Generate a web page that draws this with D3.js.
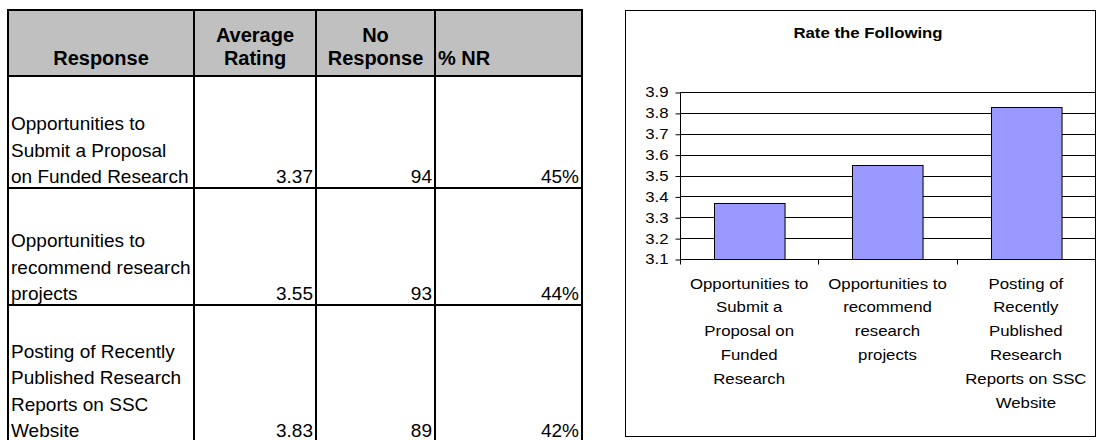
<!DOCTYPE html>
<html>
<head>
<meta charset="utf-8">
<script src="https://cdn.jsdelivr.net/npm/d3@7"></script>
<style>
  html, body { margin: 0; padding: 0; background: #fff; }
  svg { display: block; }
  text { font-family: "Liberation Sans", Arial, sans-serif; }
</style>
</head>
<body>
<svg id="c" width="1097" height="440"></svg>
<script>
// ---------------- data ----------------
const categories = [
  "Opportunities to Submit a Proposal on Funded Research",
  "Opportunities to recommend research projects",
  "Posting of Recently Published Research Reports on SSC Website"
];
const averageRating = [3.37, 3.55, 3.83];
const noResponse = [94, 93, 89];
const pctNR = ["45%", "44%", "42%"];

const tableHeaders = [["Response"], ["Average", "Rating"], ["No", "Response"], ["% NR"]];
const tableLabelLines = [
  ["Opportunities to", "Submit a Proposal", "on Funded Research"],
  ["Opportunities to", "recommend research", "projects"],
  ["Posting of Recently", "Published Research", "Reports on SSC", "Website"]
];
const axisLabelLines = [
  ["Opportunities to", "Submit a", "Proposal on", "Funded", "Research"],
  ["Opportunities to", "recommend", "research", "projects"],
  ["Posting of", "Recently", "Published", "Research", "Reports on SSC", "Website"]
];
const yTicks = [3.1, 3.2, 3.3, 3.4, 3.5, 3.6, 3.7, 3.8, 3.9];
const chartTitle = "Rate the Following";

// ---------------- table ----------------
const svg = d3.select("#c");
const colX = [8, 194, 316, 435, 582];
const rowY = [10, 76, 188, 305, 442];
const tbl = svg.append("g");

tbl.append("rect")
  .attr("x", colX[0]).attr("y", rowY[0])
  .attr("width", colX[4] - colX[0]).attr("height", rowY[1] - rowY[0])
  .attr("fill", "#c0c0c0");

// header text
const hdrAlign = ["middle", "middle", "middle", "start"];
tableHeaders.forEach((lines, ci) => {
  const x = hdrAlign[ci] === "middle" ? (colX[ci] + colX[ci + 1]) / 2 : colX[ci] + 3;
  const lastBase = rowY[1] - 11;
  lines.forEach((ln, li) => {
    tbl.append("text")
      .attr("x", x)
      .attr("y", lastBase - (lines.length - 1 - li) * 23)
      .attr("text-anchor", hdrAlign[ci])
      .attr("font-size", 20).attr("font-weight", "bold")
      .attr("fill", "#000")
      .text(ln);
  });
});

// body rows
const lh = 26.5;
categories.forEach((cat, ri) => {
  const base = rowY[ri + 2] - 5;
  const lines = tableLabelLines[ri];
  lines.forEach((ln, li) => {
    tbl.append("text")
      .attr("x", colX[0] + 3)
      .attr("y", base - (lines.length - 1 - li) * lh)
      .attr("font-size", 19).attr("fill", "#000")
      .text(ln);
  });
  const vals = [d3.format(".2f")(averageRating[ri]), String(noResponse[ri]), pctNR[ri]];
  vals.forEach((v, vi) => {
    tbl.append("text")
      .attr("x", colX[vi + 2] - 3)
      .attr("y", base)
      .attr("text-anchor", "end")
      .attr("font-size", 19).attr("fill", "#000")
      .text(v);
  });
});

// grid lines of table
colX.forEach(x => {
  tbl.append("line").attr("x1", x).attr("x2", x)
    .attr("y1", rowY[0]).attr("y2", rowY[rowY.length - 1])
    .attr("stroke", "#000").attr("stroke-width", 2);
});
rowY.forEach(y => {
  tbl.append("line").attr("x1", colX[0] - 1).attr("x2", colX[4] + 1)
    .attr("y1", y).attr("y2", y)
    .attr("stroke", "#000").attr("stroke-width", 2);
});

// ---------------- chart ----------------
const ch = svg.append("g");
ch.append("rect")
  .attr("x", 625.5).attr("y", 10.5)
  .attr("width", 470).attr("height", 426)
  .attr("fill", "#fff").attr("stroke", "#000").attr("stroke-width", 1);

const plotL = 680, plotR = 1095, plotT = 92, plotB = 259;
const x = d3.scaleBand().domain(categories).range([plotL, plotR])
  .paddingInner(0.49).paddingOuter(0.245);
const y = d3.scaleLinear().domain([3.1, 3.9]).range([plotB, plotT]);
const SX = 1.2;

// title
ch.append("text")
  .attr("transform", `translate(868,38) scale(${SX},1)`)
  .attr("text-anchor", "middle")
  .attr("font-size", 14).attr("font-weight", "bold")
  .text(chartTitle);

// gridlines
ch.append("g").selectAll("line").data(yTicks.slice(1)).join("line")
  .attr("x1", plotL).attr("x2", plotR)
  .attr("y1", d => Math.round(y(d)) + 0.5).attr("y2", d => Math.round(y(d)) + 0.5)
  .attr("stroke", "#000").attr("stroke-width", 1);

// bars
ch.append("g").selectAll("rect").data(categories).join("rect")
  .attr("x", d => Math.round(x(d)) + 0.5)
  .attr("y", (d, i) => Math.round(y(averageRating[i])) + 0.5)
  .attr("width", x.bandwidth())
  .attr("height", (d, i) => Math.round(y(3.1)) - Math.round(y(averageRating[i])))
  .attr("fill", "#9999ff").attr("stroke", "#000").attr("stroke-width", 1);

// y axis
const yAxis = d3.axisLeft(y).tickValues(yTicks).tickSize(5).tickPadding(7)
  .tickFormat(d3.format(".1f"));
const ya = ch.append("g").attr("transform", `translate(${plotL + 0.5},0.5)`).call(yAxis);
ya.select(".domain").attr("d", `M0,${plotT}V${plotB + 4}`).attr("stroke", "#000");
ya.selectAll(".tick line").attr("stroke", "#000");
ya.selectAll(".tick text")
  .attr("font-family", "Liberation Sans, Arial, sans-serif")
  .attr("font-size", 14).attr("fill", "#000")
  .each(function() {
    const t = d3.select(this);
    const xx = +t.attr("x");
    t.attr("x", null).attr("transform", `translate(${xx},0) scale(${SX},1)`);
  });

// x axis
const xa = ch.append("g").attr("transform", `translate(0,${plotB + 0.5})`);
xa.append("line").attr("x1", plotL).attr("x2", plotR).attr("stroke", "#000");
const tickPos = [plotL].concat(categories.map(c => x(c) + x.bandwidth() / 2 + x.step() / 2));
xa.selectAll("line.tk").data(tickPos).join("line").attr("class", "tk")
  .attr("x1", d => Math.round(d) + 0.5).attr("x2", d => Math.round(d) + 0.5)
  .attr("y1", 0).attr("y2", 5).attr("stroke", "#000");

categories.forEach((c, i) => {
  const cx = x(c) + x.bandwidth() / 2;
  axisLabelLines[i].forEach((ln, li) => {
    xa.append("text")
      .attr("transform", `translate(${cx},${29 + li * 23.8}) scale(${SX},1)`)
      .attr("text-anchor", "middle")
      .attr("font-size", 14).attr("fill", "#000")
      .text(ln);
  });
});
</script>
</body>
</html>
